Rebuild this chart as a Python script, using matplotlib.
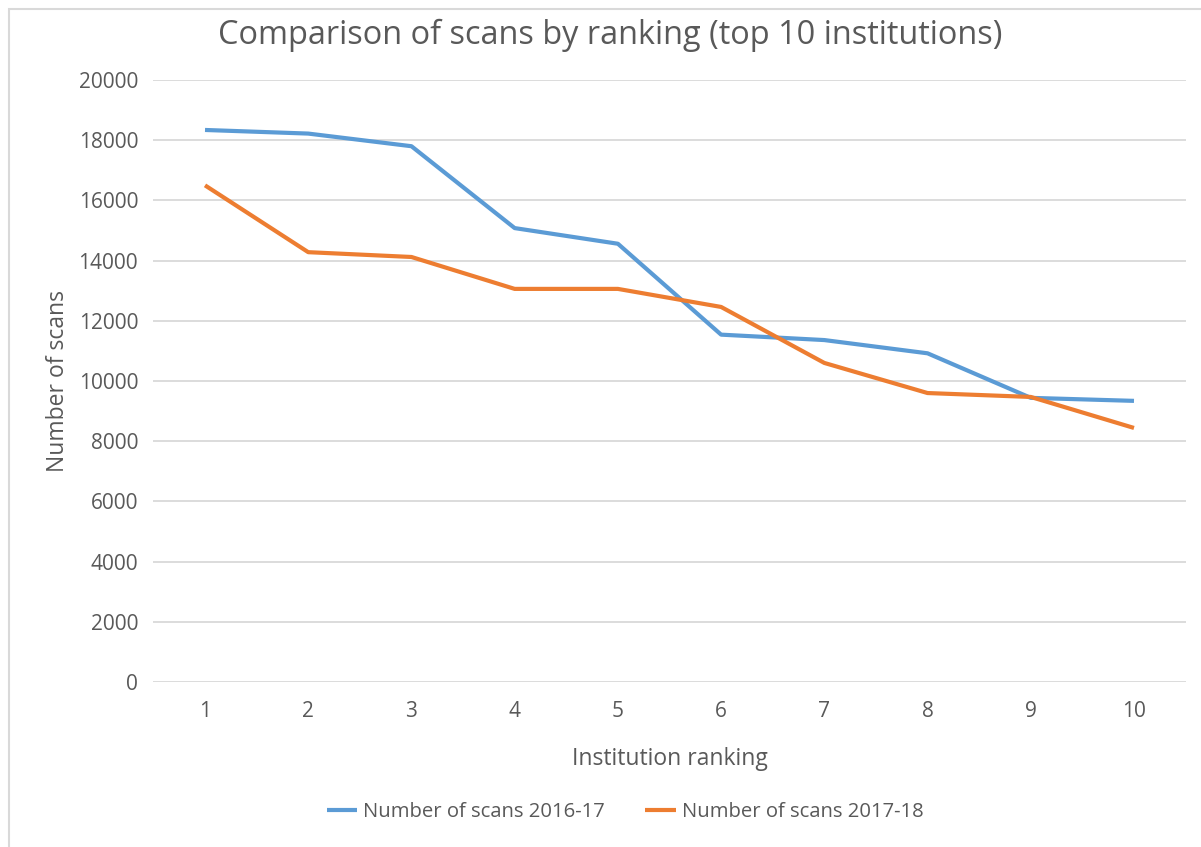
import numpy as np
import matplotlib.pyplot as plt
from matplotlib.patches import Rectangle

plt.rcParams['font.family'] = ['Open Sans', 'DejaVu Sans']

rank = [1, 2, 3, 4, 5, 6, 7, 8, 9, 10]
scans_1617 = [18340, 18220, 17800, 15080, 14560, 11540, 11360, 10920, 9440, 9340]
scans_1718 = [16500, 14280, 14120, 13060, 13060, 12460, 10600, 9600, 9470, 8440]

label_1617 = 'Number of scans 2016-17'
label_1718 = 'Number of scans 2017-18'

fig = plt.figure(figsize=(12.01, 8.47), dpi=100)
ax = fig.add_axes([153.4 / 1201, 1 - 682 / 847, (1185.6 - 153.4) / 1201, (682 - 80) / 847])

# chart frame
fig.patches.append(Rectangle((9 / 1201, -0.1), 1.2, (847 - 9) / 847 + 0.1,
                             transform=fig.transFigure, fill=False,
                             edgecolor='#d9d9d9', linewidth=1.5))

ax.plot(rank, scans_1617, color='#5b9bd5', linewidth=3, label=label_1617,
        solid_joinstyle='round', solid_capstyle='butt')
ax.plot(rank, scans_1718, color='#ed7d31', linewidth=3, label=label_1718,
        solid_joinstyle='round', solid_capstyle='butt')

ax.set_xlim(0.5, 10.5)
ax.set_ylim(0, 20000)
ax.set_xticks(rank)
ax.set_yticks(np.arange(0, 20001, 2000))
ax.grid(axis='y', color='#d9d9d9', linewidth=1.3)
ax.set_axisbelow(True)
for s in ax.spines.values():
    s.set_visible(False)
ax.tick_params(length=0, labelsize=15, colors='#595959')
ax.tick_params(axis='x', pad=14)
ax.tick_params(axis='y', pad=11)

fig.text(610 / 1201, 1 - 35 / 847, 'Comparison of scans by ranking (top 10 institutions)',
         fontsize=23.4, color='#595959', ha='center', va='center')
ax.set_xlabel('Institution ranking', fontsize=16.5, color='#595959', labelpad=18)
ax.set_ylabel('Number of scans', fontsize=16.5, color='#595959', labelpad=6)

fig.legend(loc='center', bbox_to_anchor=(625 / 1201, 1 - 812 / 847), ncol=2,
           frameon=False, fontsize=14.6, labelcolor='#595959', handlelength=1.5,
           columnspacing=2.0, handletextpad=0.3)

fig.savefig('out.png', dpi=100)
